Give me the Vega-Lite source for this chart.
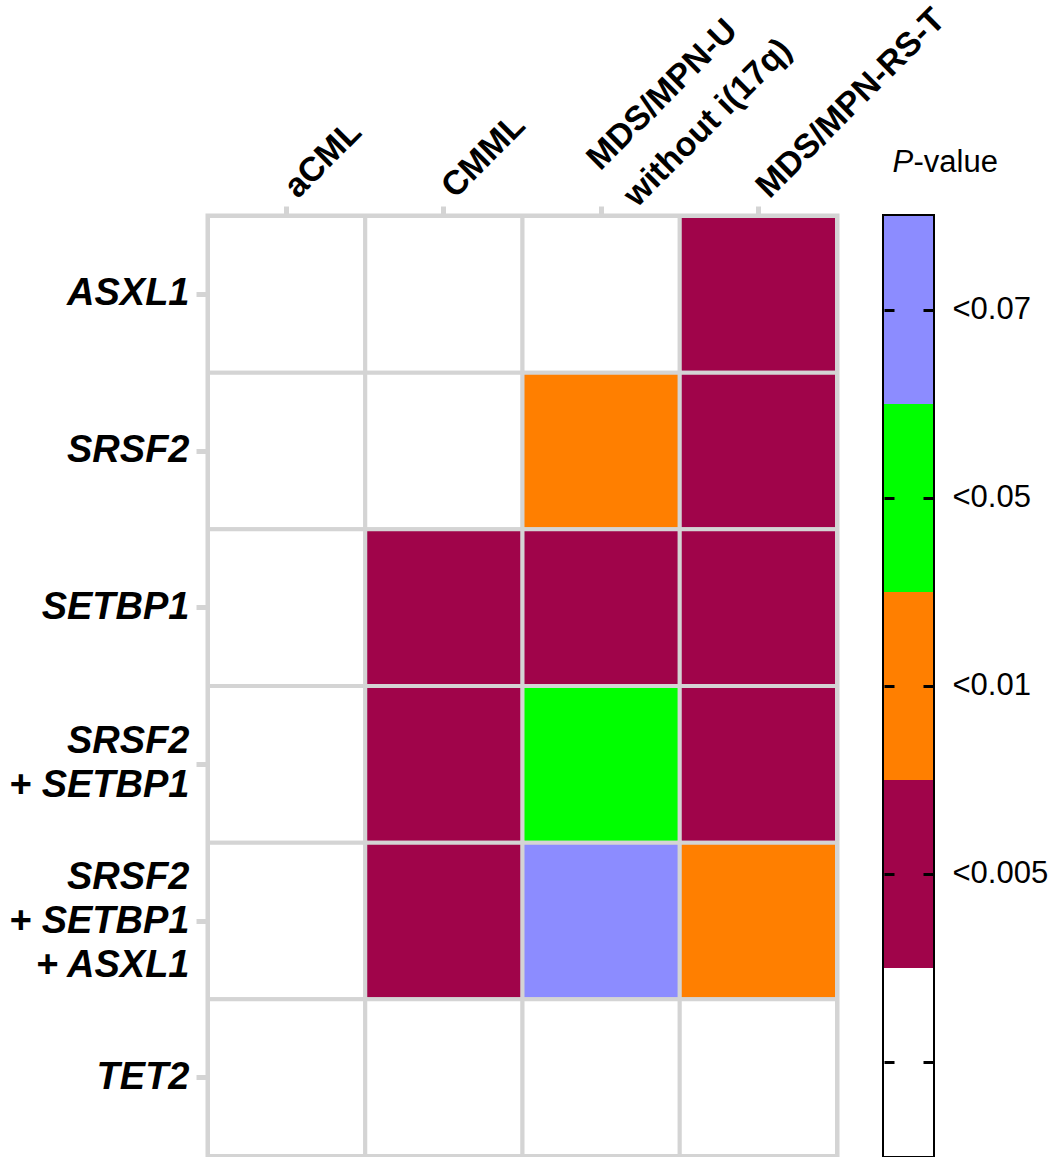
{
  "$schema": "https://vega.github.io/schema/vega-lite/v6.json",
  "background": "white",
  "padding": {"left": 5, "top": -7, "right": 5, "bottom": 5},
  "spacing": 47,
  "bounds": "flush",
  "config": {"font": "Liberation Sans", "view": {"stroke": null}},
  "datasets": {
    "cells": [
      {"gene": "ASXL1", "dx": "aCML", "p": "n.s."},
      {"gene": "ASXL1", "dx": "CMML", "p": "n.s."},
      {"gene": "ASXL1", "dx": "MDS/MPN-U|without i(17q)", "p": "n.s."},
      {"gene": "ASXL1", "dx": "MDS/MPN-RS-T", "p": "<0.005"},
      {"gene": "SRSF2", "dx": "aCML", "p": "n.s."},
      {"gene": "SRSF2", "dx": "CMML", "p": "n.s."},
      {"gene": "SRSF2", "dx": "MDS/MPN-U|without i(17q)", "p": "<0.01"},
      {"gene": "SRSF2", "dx": "MDS/MPN-RS-T", "p": "<0.005"},
      {"gene": "SETBP1", "dx": "aCML", "p": "n.s."},
      {"gene": "SETBP1", "dx": "CMML", "p": "<0.005"},
      {"gene": "SETBP1", "dx": "MDS/MPN-U|without i(17q)", "p": "<0.005"},
      {"gene": "SETBP1", "dx": "MDS/MPN-RS-T", "p": "<0.005"},
      {"gene": "SRSF2 |+ SETBP1", "dx": "aCML", "p": "n.s."},
      {"gene": "SRSF2 |+ SETBP1", "dx": "CMML", "p": "<0.005"},
      {"gene": "SRSF2 |+ SETBP1", "dx": "MDS/MPN-U|without i(17q)", "p": "<0.05"},
      {"gene": "SRSF2 |+ SETBP1", "dx": "MDS/MPN-RS-T", "p": "<0.005"},
      {"gene": "SRSF2 |+ SETBP1|+ ASXL1", "dx": "aCML", "p": "n.s."},
      {"gene": "SRSF2 |+ SETBP1|+ ASXL1", "dx": "CMML", "p": "<0.005"},
      {"gene": "SRSF2 |+ SETBP1|+ ASXL1", "dx": "MDS/MPN-U|without i(17q)", "p": "<0.07"},
      {"gene": "SRSF2 |+ SETBP1|+ ASXL1", "dx": "MDS/MPN-RS-T", "p": "<0.01"},
      {"gene": "TET2", "dx": "aCML", "p": "n.s."},
      {"gene": "TET2", "dx": "CMML", "p": "n.s."},
      {"gene": "TET2", "dx": "MDS/MPN-U|without i(17q)", "p": "n.s."},
      {"gene": "TET2", "dx": "MDS/MPN-RS-T", "p": "n.s."}
    ],
    "bands": [
      {"col": "bar", "p": "<0.07"},
      {"col": "bar", "p": "<0.05"},
      {"col": "bar", "p": "<0.01"},
      {"col": "bar", "p": "<0.005"},
      {"col": "bar", "p": "n.s."}
    ]
  },
  "hconcat": [
    {
      "width": 629,
      "height": 940,
      "view": {"stroke": "#d4d4d4", "strokeWidth": 5},
      "data": {"name": "cells"},
      "mark": {"type": "rect", "stroke": "#d4d4d4", "strokeWidth": 4},
      "encoding": {
        "x": {
          "field": "dx",
          "type": "nominal",
          "sort": ["aCML", "CMML", "MDS/MPN-U|without i(17q)", "MDS/MPN-RS-T"],
          "scale": {"paddingInner": 0, "paddingOuter": 0},
          "axis": {
            "orient": "top",
            "title": null,
            "domain": false,
            "labelAngle": -45,
            "labelAlign": "left",
            "labelBaseline": "alphabetic",
            "labelExpr": "split(datum.value, '|')",
            "labelFont": "Liberation Sans",
            "labelFontWeight": "bold",
            "labelFontSize": 34,
            "labelLineHeight": 52,
            "labelColor": "black",
            "labelPadding": {"condition": {"test": "datum.value == 'MDS/MPN-U|without i(17q)'", "value": 35}, "value": 7},
            "labelOffset": {"condition": {"test": "datum.value == 'MDS/MPN-U|without i(17q)'", "value": -1}, "value": 11},
            "labelOverlap": false,
            "labelLimit": 0,
            "tickSize": 10,
            "tickWidth": 5,
            "tickColor": "#d4d4d4"
          }
        },
        "y": {
          "field": "gene",
          "type": "nominal",
          "sort": ["ASXL1", "SRSF2", "SETBP1", "SRSF2 |+ SETBP1", "SRSF2 |+ SETBP1|+ ASXL1", "TET2"],
          "scale": {"paddingInner": 0, "paddingOuter": 0},
          "axis": {
            "title": null,
            "domain": false,
            "labelExpr": "split(datum.value, '|')",
            "labelFont": "Liberation Sans",
            "labelFontWeight": "bold",
            "labelFontStyle": "italic",
            "labelFontSize": 38,
            "labelLineHeight": 44,
            "labelColor": "black",
            "labelPadding": 7,
            "labelOffset": {
              "condition": [
                {"test": "datum.value == 'SRSF2 |+ SETBP1|+ ASXL1'", "value": -43},
                {"test": "datum.value == 'SRSF2 |+ SETBP1'", "value": -22}
              ],
              "value": 0
            },
            "labelLimit": 0,
            "tickSize": 12,
            "tickWidth": 5,
            "tickColor": "#d4d4d4"
          }
        },
        "color": {
          "field": "p",
          "type": "nominal",
          "scale": {
            "domain": ["<0.005", "<0.01", "<0.05", "<0.07", "n.s."],
            "range": ["#a0044a", "#ff7f00", "#00ff00", "#8c8cff", "#ffffff"]
          },
          "legend": null
        }
      }
    },
    {
      "width": 49,
      "height": 940,
      "view": {"stroke": "black", "strokeWidth": 4},
      "data": {"name": "bands"},
      "mark": {"type": "rect"},
      "encoding": {
        "x": {
          "field": "col",
          "type": "nominal",
          "scale": {"paddingInner": 0, "paddingOuter": 0},
          "axis": {
            "orient": "top",
            "title": "P",
            "titleAngle": 0,
            "titleAlign": "left",
            "titleBaseline": "alphabetic",
            "titleAnchor": null,
            "titleX": 8,
            "titleY": -45,
            "titleFont": "Liberation Sans",
            "titleFontSize": 31,
            "titleFontWeight": "normal",
            "titleFontStyle": "italic",
            "titleColor": "black",
            "domain": false,
            "labels": false,
            "ticks": false
          }
        },
        "y": {
          "field": "p",
          "type": "nominal",
          "sort": ["<0.07", "<0.05", "<0.01", "<0.005", "n.s."],
          "scale": {"paddingInner": 0, "paddingOuter": 0},
          "axis": {
            "orient": "right",
            "title": "-value",
            "titleAngle": 0,
            "titleAlign": "left",
            "titleBaseline": "alphabetic",
            "titleAnchor": null,
            "titleX": -20,
            "titleY": -45,
            "titleFont": "Liberation Sans",
            "titleFontSize": 31,
            "titleFontWeight": "normal",
            "titleColor": "black",
            "domain": false,
            "labelExpr": "datum.value == 'n.s.' ? '' : datum.value",
            "labelFont": "Liberation Sans",
            "labelFontSize": 31,
            "labelColor": "black",
            "labelPadding": 68,
            "tickSize": -49,
            "tickWidth": 3,
            "tickDash": [10, 29, 10],
            "tickColor": "black"
          }
        },
        "color": {
          "field": "p",
          "type": "nominal",
          "scale": {
            "domain": ["<0.005", "<0.01", "<0.05", "<0.07", "n.s."],
            "range": ["#a0044a", "#ff7f00", "#00ff00", "#8c8cff", "#ffffff"]
          },
          "legend": null
        }
      }
    }
  ]
}
